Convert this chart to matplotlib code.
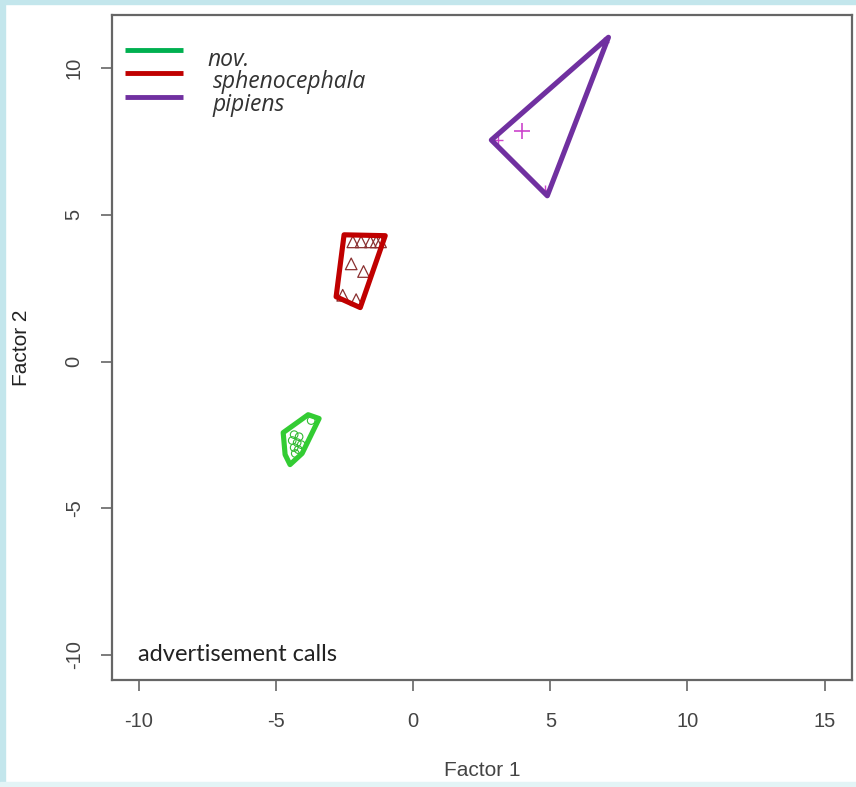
import matplotlib
matplotlib.use("Agg")
import matplotlib.pyplot as plt
from matplotlib.patches import Rectangle

plt.rcParams['axes.unicode_minus'] = False

# convex hulls (Factor 1, Factor 2)
nov_hull_x = [-4.74, -3.83, -3.43, -4.05, -4.49, -4.67]
nov_hull_y = [-2.42, -1.81, -1.94, -3.13, -3.51, -3.17]
sph_hull_x = [-2.52, -1.02, -1.93, -2.81]
sph_hull_y = [4.32, 4.29, 1.84, 2.21]
pip_hull_x = [2.85, 7.12, 4.89]
pip_hull_y = [7.55, 11.05, 5.65]

# individual calls
nov_x = [-4.34, -4.16, -4.41, -4.23, -4.08, -4.34, -4.19, -4.30, -3.72]
nov_y = [-2.49, -2.56, -2.69, -2.76, -2.83, -2.93, -3.00, -3.13, -2.01]
sph_x = [-2.20, -1.90, -1.56, -1.35, -1.19, -2.26, -1.81, -2.57, -2.08]
sph_y = [4.08, 4.08, 4.08, 4.08, 4.08, 3.33, 3.07, 2.26, 2.11]
pip_x = [3.10, 6.95, 4.80]
pip_y = [7.55, 10.90, 5.85]
pip_mean = (3.98, 7.86)

species = ["nov.", "sphenocephala", "pipiens"]
legend_colors = ["#00b050", "#c00000", "#7030a0"]

fig = plt.figure(figsize=(8.56, 7.87), dpi=100)
W, H = 856, 787
ax = fig.add_axes([111.5 / W, 1 - 680 / H, 740.5 / W, 665 / H])

# points
ax.scatter(nov_x, nov_y, s=30, facecolors="none", edgecolors="#33bb33", linewidths=0.8, zorder=2)
ax.scatter(sph_x, sph_y, marker="^", s=70, facecolors="none", edgecolors="#8a3030", linewidths=0.9, zorder=2)
ax.scatter(pip_x, pip_y, marker="+", s=60, color="#cc44cc", linewidths=1.0, zorder=2)
ax.scatter([pip_mean[0]], [pip_mean[1]], marker="+", s=120, color="#cc44cc", linewidths=1.2, zorder=2)

# hulls
ax.fill(nov_hull_x, nov_hull_y, facecolor="none", edgecolor="#33cc33", linewidth=3.7, joinstyle="round", zorder=3)
ax.fill(sph_hull_x, sph_hull_y, facecolor="none", edgecolor="#c00000", linewidth=3.7, joinstyle="round", zorder=3)
ax.fill(pip_hull_x, pip_hull_y, facecolor="none", edgecolor="#7030a0", linewidth=3.7, joinstyle="round", zorder=3)

ax.set_xlim(-11, 16)
ax.set_ylim(-10.85, 11.81)
ax.set_xticks([-10, -5, 0, 5, 10, 15])
ax.set_yticks([-10, -5, 0, 5, 10])
for sp in ax.spines.values():
    sp.set_color("#666666")
    sp.set_linewidth(1.6)
ax.tick_params(length=8, width=1.2, color="#666666", labelcolor="#444444",
               labelsize=14.5, pad=15)
ax.tick_params(axis="y", pad=12)
for lab in ax.get_xticklabels() + ax.get_yticklabels():
    lab.set_family("Liberation Sans")
for lab in ax.get_yticklabels():
    lab.set_rotation(90)
    lab.set_va("center")
ax.set_xlabel("Factor 1", fontsize=15, color="#444444", family="Liberation Sans", labelpad=22)
ax.set_ylabel("Factor 2", fontsize=15, color="#222222", family="Liberation Sans", labelpad=24)

# legend drawn by hand
line_y = [0.947, 0.913, 0.877]
text_pos = [(0.130, 0.932), (0.137, 0.900), (0.137, 0.865)]
for name, c, ly, (tx, ty) in zip(species, legend_colors, line_y, text_pos):
    ax.plot([0.018, 0.097], [ly, ly], color=c, linewidth=3.5, solid_capstyle="butt",
            transform=ax.transAxes, clip_on=False)
    ax.text(tx, ty, name, transform=ax.transAxes, fontsize=16.5, style="italic",
            color="#333333", family="Open Sans", va="center", ha="left")

ax.text(0.036, 0.039, "advertisement calls", transform=ax.transAxes, fontsize=17,
        color="#222222", family="Lato", va="center", ha="left")

# light cyan frame around the picture
edge = "#c3e6ec"
fig.patches.append(Rectangle((0, 1 - 4 / H), 1, 4 / H, transform=fig.transFigure, color=edge, zorder=-1))
fig.patches.append(Rectangle((0, 0), 5 / W, 1, transform=fig.transFigure, color=edge, zorder=-1))
fig.patches.append(Rectangle((0, 0), 1, 5 / H, transform=fig.transFigure, color="#e3f4f6", zorder=-1))

fig.savefig("out.png", dpi=100)
